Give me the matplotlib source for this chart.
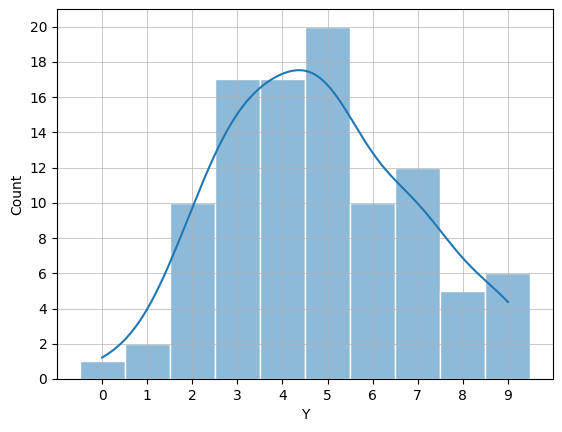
import numpy as np
import pandas as pd
import seaborn as sns
import matplotlib
matplotlib.use("Agg")
import matplotlib.pyplot as plt

# values
y_values = [0, 1, 2, 3, 4, 5, 6, 7, 8, 9]
counts = [1, 2, 10, 17, 17, 20, 10, 12, 5, 6]

df = pd.DataFrame({"Y": np.repeat(y_values, counts)})

fig = plt.figure(figsize=(5.62, 4.32), dpi=100)
ax = fig.add_axes([0.1014, 0.1227, 0.8826, 0.8565])

sns.histplot(data=df, x="Y", discrete=True, kde=True, ax=ax, edgecolor="white")

ax.set_xticks(y_values)
ax.set_yticks(range(0, 21, 2))
ax.set_ylim(0, 21)
ax.grid(True, color="#b0b0b0", linewidth=0.6, alpha=0.8)

fig.savefig("out.png", dpi=100)
